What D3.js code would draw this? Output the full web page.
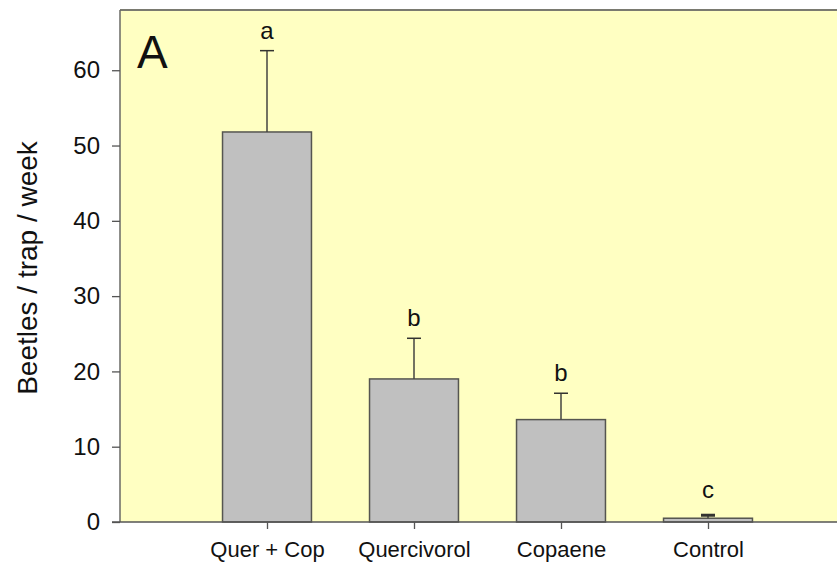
<!DOCTYPE html>
<html>
<head>
<meta charset="utf-8">
<script src="https://cdn.jsdelivr.net/npm/d3@7"></script>
<style>
  html, body { margin: 0; padding: 0; background: #fff; }
  svg { display: block; font-family: "Liberation Sans", Arial, sans-serif; }
</style>
</head>
<body>
<svg id="chart" width="837" height="566"></svg>
<script>
// ---- data ----
const categories = ["Quer + Cop", "Quercivorol", "Copaene", "Control"];
const means = [51.8, 19.0, 13.6, 0.5];
const errors = [10.8, 5.4, 3.5, 0.4];
const letters = ["a", "b", "b", "c"];
const yTicks = [0, 10, 20, 30, 40, 50, 60];
const panelLabel = "A";
const yTitle = "Beetles / trap / week";

// ---- layout ----
const plotLeft = 120, plotTop = 10, plotBottom = 522, plotRight = 855;
const svg = d3.select("#chart");

const x = d3.scaleLinear().domain([0, 5]).range([plotLeft, plotRight]);
const y = d3.scaleLinear().domain([0, 68]).range([plotBottom, plotTop]);
const barW = x(0.605) - x(0);

// background
svg.append("rect")
  .attr("x", plotLeft).attr("y", plotTop)
  .attr("width", plotRight - plotLeft).attr("height", plotBottom - plotTop)
  .attr("fill", "#ffffc2");

// frame (top + left)
svg.append("line").attr("x1", plotLeft).attr("x2", plotRight).attr("y1", plotTop).attr("y2", plotTop)
  .attr("stroke", "#7a7a70").attr("stroke-width", 2);
svg.append("line").attr("x1", plotLeft).attr("x2", plotLeft).attr("y1", plotTop).attr("y2", plotBottom)
  .attr("stroke", "#6a6a64").attr("stroke-width", 1.5);

// bars
const data = categories.map((c, i) => ({ c, i, m: means[i], e: errors[i], l: letters[i] }));
const g = svg.append("g");
g.selectAll("rect.bar").data(data).enter().append("rect")
  .attr("class", "bar")
  .attr("x", d => x(d.i + 1) - barW / 2)
  .attr("y", d => y(d.m))
  .attr("width", barW)
  .attr("height", d => y(0) - y(d.m))
  .attr("fill", "#c0c0c0")
  .attr("stroke", "#555550")
  .attr("stroke-width", 1.5);

// error bars (upper only)
g.selectAll("line.err").data(data).enter().append("line")
  .attr("class", "err")
  .attr("x1", d => x(d.i + 1)).attr("x2", d => x(d.i + 1))
  .attr("y1", d => y(d.m)).attr("y2", d => y(d.m + d.e))
  .attr("stroke", "#444440").attr("stroke-width", 1.5);
g.selectAll("line.cap").data(data).enter().append("line")
  .attr("class", "cap")
  .attr("x1", d => x(d.i + 1) - 7).attr("x2", d => x(d.i + 1) + 7)
  .attr("y1", d => y(d.m + d.e)).attr("y2", d => y(d.m + d.e))
  .attr("stroke", "#333330").attr("stroke-width", d => d.i === 3 ? 3 : 1.5);

// significance letters
g.selectAll("text.let").data(data).enter().append("text")
  .attr("class", "let")
  .attr("x", d => x(d.i + 1))
  .attr("y", d => y(d.m + d.e) - (d.i === 3 ? 17 : 12))
  .attr("text-anchor", "middle")
  .attr("font-size", 24)
  .attr("fill", "#111")
  .text(d => d.l);

// y axis
const yAxis = d3.axisLeft(y).tickValues(yTicks).tickSize(8).tickPadding(12);
const ya = svg.append("g").attr("transform", `translate(${plotLeft},0)`).call(yAxis);
ya.select(".domain").remove();
ya.selectAll(".tick line").attr("stroke", "#555").attr("stroke-width", 1.3);
ya.selectAll(".tick text").attr("font-size", 24).attr("fill", "#111")
  .attr("font-family", "Liberation Sans, Arial, sans-serif");

// x axis
const xAxis = d3.axisBottom(x).tickValues([1, 2, 3, 4])
  .tickFormat(v => categories[v - 1]).tickSize(7).tickPadding(12);
const xa = svg.append("g").attr("transform", `translate(0,${plotBottom})`).call(xAxis);
xa.select(".domain").attr("d", `M${plotLeft - 8},0H${plotRight}`).attr("stroke", "#555").attr("stroke-width", 1.5);
xa.selectAll(".tick line").attr("stroke", "#555").attr("stroke-width", 1.3);
xa.selectAll(".tick text").attr("font-size", 22).attr("fill", "#111")
  .attr("font-family", "Liberation Sans, Arial, sans-serif");

// y title
svg.append("text")
  .attr("transform", `translate(37,268) rotate(-90)`)
  .attr("text-anchor", "middle")
  .attr("font-size", 28)
  .attr("fill", "#111")
  .text(yTitle);

// panel label
svg.append("text")
  .attr("x", 137).attr("y", 68)
  .attr("font-size", 46)
  .attr("fill", "#111")
  .text(panelLabel);
</script>
</body>
</html>
